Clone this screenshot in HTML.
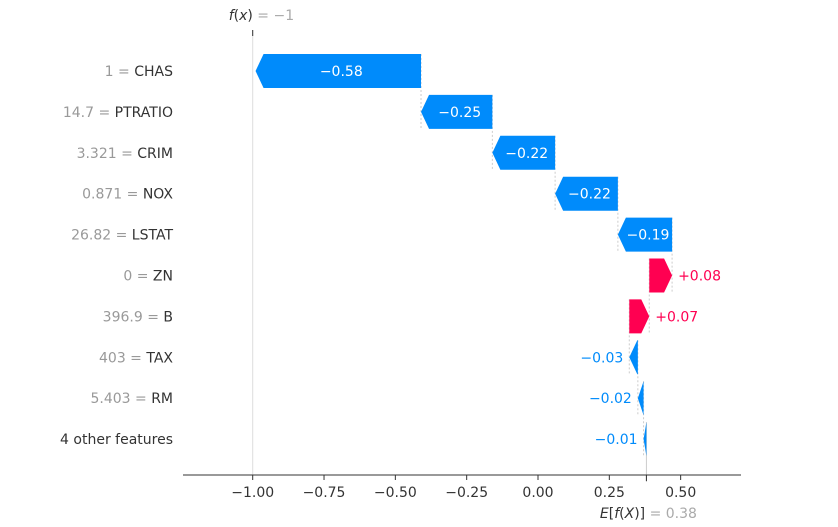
<!DOCTYPE html>
<html><head><meta charset="utf-8"><style>
body{margin:0;background:#fff;}
svg{display:block;font-family:"DejaVu Sans","Liberation Sans",sans-serif;}
</style></head><body>
<svg id="c" width="838" height="527" viewBox="0 0 838 527"></svg>
<script>
const featureValues=["1","14.7","3.321","0.871","26.82","0","396.9","403","5.403",""];
const featureNames=["CHAS","PTRATIO","CRIM","NOX","LSTAT","ZN","B","TAX","RM","4 other features"];
const shapValues=[-0.58,-0.25,-0.22,-0.22,-0.19,0.08,0.07,-0.03,-0.02,-0.01];
const baseValue=0.38;
const fxValue=-1;
const tickValues=[-1.0,-0.75,-0.5,-0.25,0.0,0.25,0.5];
const tickLabels=["\u22121.00","\u22120.75","\u22120.50","\u22120.25","0.00","0.25","0.50"];

const NS="http://www.w3.org/2000/svg";
const svg=document.getElementById('c');
function X(v){return 538+v*285.3;}
function Y(i){return 71+i*40.9;}
function mk(t,a,p){const e=document.createElementNS(NS,t);for(const k in a)e.setAttribute(k,a[k]);(p||svg).appendChild(e);return e;}
const BLUE="#008bfb",RED="#ff0051",H=34;
// cumulative ends
const n=shapValues.length;const start=new Array(n),end=new Array(n);
let cur=baseValue;
for(let i=n-1;i>=0;i--){start[i]=cur;end[i]=cur+shapValues[i];cur=end[i];}
// f(x) line
let l=mk('line',{x1:X(fxValue),y1:30,x2:X(fxValue),y2:475,stroke:'#ddd','stroke-width':1});

mk('line',{x1:X(fxValue),y1:30,x2:X(fxValue),y2:36,stroke:'#333','stroke-width':1});
let t=mk('text',{x:X(fxValue)-24,y:20,'font-size':14,fill:'#333'});

t.innerHTML='<tspan font-style="italic">f</tspan>(<tspan font-style="italic">x</tspan>)<tspan fill="#aaa"> = \u22121</tspan>';
// E line
l=mk('line',{x1:X(baseValue),y1:Y(n-1)-H/2,x2:X(baseValue),y2:482,stroke:'#ccc','stroke-width':1});

for(let i=0;i<n;i++){
  const y=Y(i);
  // connector
  if(i<n-1){const c=mk('line',{x1:X(start[i]),y1:y-H/2,x2:X(start[i]),y2:Y(i+1)+H/2,stroke:'#ccc','stroke-width':1,'stroke-dasharray':'2,2'});
    }
  const x0=X(start[i]),x1=X(end[i]);const pos=shapValues[i]>0;
  const w=Math.abs(x1-x0);const tip=Math.min(8,w);
  const d=pos?[x0,y-H/2,x1-tip,y-H/2,x1,y,x1-tip,y+H/2,x0,y+H/2]:[x0,y-H/2,x1+tip,y-H/2,x1,y,x1+tip,y+H/2,x0,y+H/2];
  const p=mk('polygon',{points:d.join(' '),fill:pos?RED:BLUE});
  
  
  const lab=(pos?'+':'\u2212')+Math.abs(shapValues[i]).toFixed(2);
  let tx;
  if(w>50){tx=mk('text',{x:(x0+x1)/2+(pos?-3:3),y:y+5,'font-size':14,fill:'#fff','text-anchor':'middle'});}
  else if(pos){tx=mk('text',{x:Math.max(x0,x1)+6,y:y+5,'font-size':14,fill:RED,'text-anchor':'start'});}
  else{tx=mk('text',{x:Math.min(x0,x1)-6,y:y+5,'font-size':14,fill:BLUE,'text-anchor':'end'});}
  tx.textContent=lab;
  
  const fl=mk('text',{x:173,y:y+5,'font-size':14,'text-anchor':'end',fill:'#333'});
  
  fl.innerHTML=featureValues[i]?'<tspan fill="#999">'+featureValues[i]+' = </tspan>'+featureNames[i]:featureNames[i];
}
// axis
l=mk('line',{x1:183,y1:475,x2:741,y2:475,stroke:'#333','stroke-width':1});

tickValues.forEach((v,i)=>{
  mk('line',{x1:X(v),y1:475,x2:X(v),y2:480,stroke:'#333'});
  const tt=mk('text',{x:X(v),y:497,'font-size':14,'text-anchor':'middle',fill:'#333'});
  tt.textContent=tickLabels[i];
  
});
mk('line',{x1:X(baseValue),y1:475,x2:X(baseValue),y2:481,stroke:'#333'});
t=mk('text',{x:X(baseValue)-24,y:518,'font-size':14,fill:'#333','text-anchor':'middle'});

t.innerHTML='<tspan font-style="italic">E</tspan>[<tspan font-style="italic">f</tspan>(<tspan font-style="italic">X</tspan>)]<tspan fill="#aaa"> = 0.38</tspan>';
t.setAttribute('x',X(baseValue)+2);
</script>
</body></html>
